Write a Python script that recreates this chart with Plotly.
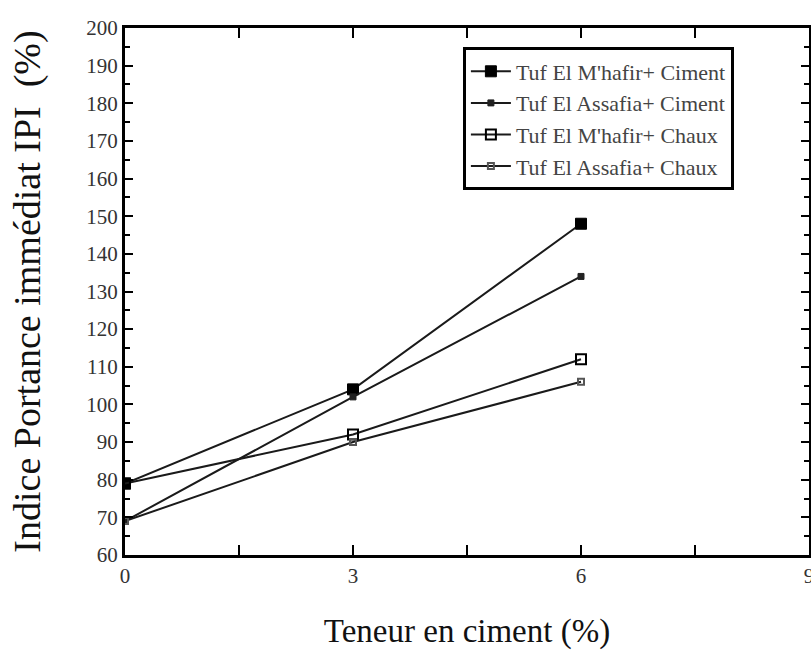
import plotly.graph_objects as go

# Teneur en liant (%)
teneur = [0, 3, 6]

# Indice Portance immédiat IPI (%)
mhafir_ciment = [79, 104, 148]
assafia_ciment = [69, 102, 134]
mhafir_chaux = [79, 92, 112]
assafia_chaux = [69, 90, 106]

noms = [
    "Tuf El M'hafir+ Ciment",
    "Tuf El Assafia+ Ciment",
    "Tuf El M'hafir+ Chaux",
    "Tuf El Assafia+ Chaux",
]

FONT = "Liberation Serif"

fig = go.Figure()

styles = [
    (mhafir_ciment, dict(symbol="square", size=11, color="#000000",
                         line=dict(color="#000000", width=1))),
    (assafia_ciment, dict(symbol="square", size=6, color="#222222",
                          line=dict(color="#222222", width=1))),
    (mhafir_chaux, dict(symbol="square-open", size=10, color="#000000",
                        line=dict(color="#000000", width=2))),
    (assafia_chaux, dict(symbol="square-open", size=6, color="#555555",
                         line=dict(color="#555555", width=2))),
]

for nom, (vals, marker) in zip(noms, styles):
    fig.add_trace(go.Scatter(
        x=teneur, y=vals, name=nom, mode="lines+markers",
        line=dict(color="#1a1a1a", width=2),
        marker=marker,
    ))

axis_common = dict(
    showline=True, linecolor="#000000", linewidth=3, mirror="ticks",
    ticks="inside", tickcolor="#000000", tickwidth=2,
    showgrid=False, zeroline=False, automargin=False,
    ticklabeloverflow="allow",
    tickfont=dict(family=FONT, size=21, color="#333333"),
)

fig.update_xaxes(
    range=[0, 9], tickvals=[0, 3, 6, 9], ticklen=10,
    minor=dict(dtick=1.5, ticks="inside", ticklen=10, tickwidth=2, tickcolor="#000000"),
    title=dict(text="Teneur en ciment (%)", font=dict(family=FONT, size=33, color="#111111"),
               standoff=32),
    **axis_common,
)
fig.update_yaxes(
    range=[60, 200], dtick=10, ticklen=8,
    minor=dict(dtick=5, ticks="inside", ticklen=5, tickwidth=2, tickcolor="#000000"),
    title=dict(text="Indice Portance immédiat IPI  (%)",
               font=dict(family=FONT, size=38, color="#111111"), standoff=34),
    **axis_common,
)

fig.update_layout(
    width=811, height=652,
    margin=dict(l=125, r=2, t=28, b=97),
    paper_bgcolor="#ffffff", plot_bgcolor="#ffffff",
    showlegend=True,
    legend=dict(
        x=0.494, y=0.963, xanchor="left", yanchor="top",
        bgcolor="#ffffff", bordercolor="#000000", borderwidth=3,
        font=dict(family=FONT, size=22, color="#444444"),
        itemwidth=40, tracegroupgap=0,
    ),
)

fig.write_html("out.html")
